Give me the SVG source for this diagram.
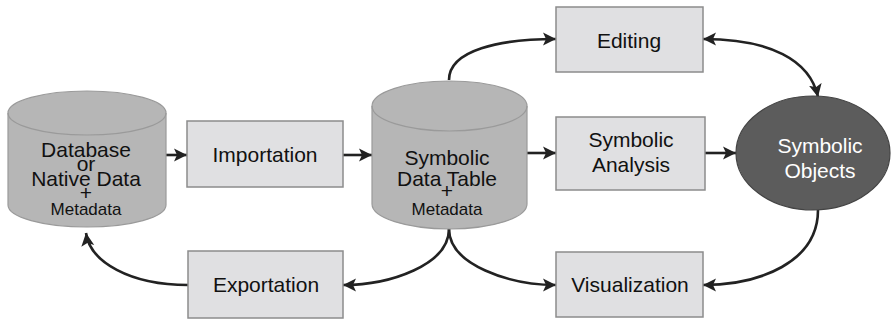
<svg xmlns="http://www.w3.org/2000/svg" width="893" height="321" viewBox="0 0 893 321">
  <style>
    .box { fill: #e0e0e2; stroke: #8c8c8c; stroke-width: 1.5; }
    .cyl { fill: #b6b6b6; stroke: #9a9a9a; stroke-width: 1.2; }
    .rim { fill: none; stroke: #9a9a9a; stroke-width: 1.2; }
    .obj { fill: #5c5c5c; stroke: #444; stroke-width: 1.2; }
    .lbl { font-family: "Liberation Sans", Arial, sans-serif; font-size: 21px; fill: #111; text-anchor: middle; }
    .sm { font-size: 17px; }
    .wht { fill: #fff; }
    .edge { fill: none; stroke: #222; stroke-width: 2.6; }
  </style>
  <defs>
    <marker id="arrow" markerUnits="userSpaceOnUse" markerWidth="14" markerHeight="14" viewBox="0 0 14 14" refX="13" refY="7" orient="auto-start-reverse">
      <path d="M0,0.5 L13,7 L0,13.5 L3,7 Z" fill="#222"/>
    </marker>
  </defs>

  <rect width="893" height="321" fill="#fff"/>

  <g id="connectors">
    <path class="edge" d="M166,155 L187,155" marker-end="url(#arrow)"/>
    <path class="edge" d="M343,155 L372,155" marker-end="url(#arrow)"/>
    <path class="edge" d="M527,153 L556,153" marker-end="url(#arrow)"/>
    <path class="edge" d="M705,153 L736,153" marker-end="url(#arrow)"/>
    <path class="edge" d="M449,80 C449,50 500,39 556,39" marker-end="url(#arrow)"/>
    <path class="edge" d="M703,39 C770,39 810,60 818,97" marker-start="url(#arrow)" marker-end="url(#arrow)"/>
    <path class="edge" d="M818,210 C818,262 760,285 703,285" marker-end="url(#arrow)"/>
    <path class="edge" d="M449,229 C449,265 390,285 343,285" marker-end="url(#arrow)"/>
    <path class="edge" d="M449,229 C449,265 510,285 556,285" marker-end="url(#arrow)"/>
    <path class="edge" d="M188,285 C130,285 90,262 86,233" marker-end="url(#arrow)"/>
  </g>

  <g id="database">
    <path class="cyl" d="M8,113 A79,22 0 0 1 166,113 L166,205 A79,22 0 0 1 8,205 Z"/>
    <path class="rim" d="M8,113 A79,22 0 0 0 166,113"/>
    <text class="lbl" x="86" y="157">Database</text>
    <text class="lbl" x="86" y="171">or</text>
    <text class="lbl" x="86" y="186">Native Data</text>
    <text class="lbl" x="86" y="200">+</text>
    <text class="lbl sm" x="86" y="215">Metadata</text>
  </g>

  <g id="importation">
    <rect class="box" x="187" y="121" width="156" height="66"/>
    <text class="lbl" x="265" y="162">Importation</text>
  </g>

  <g id="symbolic-data-table">
    <path class="cyl" d="M372,106 A77.5,25 0 0 1 527,106 L527,204 A77.5,25 0 0 1 372,204 Z"/>
    <path class="rim" d="M372,106 A77.5,25 0 0 0 527,106"/>
    <text class="lbl" x="447" y="165">Symbolic</text>
    <text class="lbl" x="447" y="186">Data Table</text>
    <text class="lbl" x="447" y="198">+</text>
    <text class="lbl sm" x="447" y="215">Metadata</text>
  </g>

  <g id="exportation">
    <rect class="box" x="188" y="251" width="155" height="67"/>
    <text class="lbl" x="266" y="292">Exportation</text>
  </g>

  <g id="editing">
    <rect class="box" x="556" y="7" width="147" height="65"/>
    <text class="lbl" x="629" y="48">Editing</text>
  </g>

  <g id="symbolic-analysis">
    <rect class="box" x="556" y="117" width="149" height="73"/>
    <text class="lbl" x="631" y="147">Symbolic</text>
    <text class="lbl" x="631" y="172">Analysis</text>
  </g>

  <g id="visualization">
    <rect class="box" x="556" y="252" width="147" height="65"/>
    <text class="lbl" x="630" y="292">Visualization</text>
  </g>

  <g id="symbolic-objects">
    <ellipse class="obj" cx="813" cy="153" rx="77" ry="57"/>
    <text class="lbl wht" x="820" y="153">Symbolic</text>
    <text class="lbl wht" x="820" y="178">Objects</text>
  </g>
</svg>
